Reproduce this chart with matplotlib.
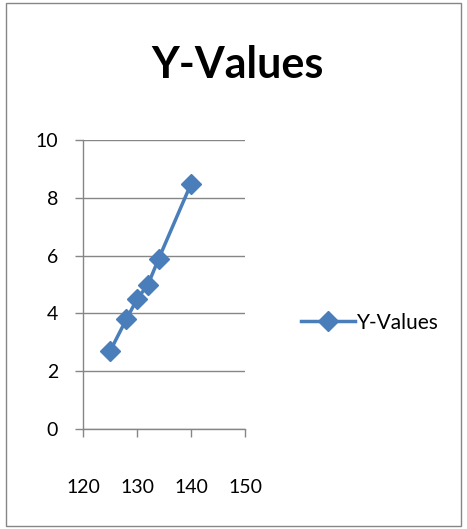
import matplotlib.pyplot as plt
from matplotlib.patches import Rectangle

# data
x_values = [125, 128, 130, 132, 134, 140]
y_values = [2.7, 3.8, 4.5, 5.0, 5.9, 8.5]
series_name = 'Y-Values'
x_ticks = [120, 130, 140, 150]
y_ticks = [0, 2, 4, 6, 8, 10]

plt.rcParams['font.family'] = ['Lato', 'DejaVu Sans']
blue = '#4A7EBB'
grey = '#868686'

fig = plt.figure(figsize=(4.67, 5.29), dpi=100)
fig.patches.append(Rectangle((0.012, 0.006), 0.976, 0.988, transform=fig.transFigure,
                             fill=False, edgecolor=grey, linewidth=1))

ax = fig.add_axes([0.178, 0.189, 0.347, 0.546])
ax.plot(x_values, y_values, color=blue, linewidth=2.5, marker='D', markersize=10,
        label=series_name)
ax.set_xlim(120, 150)
ax.set_ylim(0, 10)
ax.set_xticks(x_ticks)
ax.set_yticks(y_ticks)
ax.grid(axis='y', color=grey, linewidth=1)
ax.set_axisbelow(True)
for s in ['top', 'right']:
    ax.spines[s].set_visible(False)
for s in ['left', 'bottom']:
    ax.spines[s].set_color(grey)
    ax.spines[s].set_linewidth(1)
ax.tick_params(colors=grey, labelcolor='black', labelsize=14, length=6, width=1)
ax.tick_params(axis='x', pad=30)
ax.tick_params(axis='y', pad=12)

fig.text(0.508, 0.877, series_name, ha='center', va='center', fontsize=31, fontweight='bold')
fig.legend(loc='center left', bbox_to_anchor=(0.605, 0.39), frameon=False, fontsize=15,
           handlelength=2.6, handletextpad=0.05)

fig.savefig('out.png', dpi=100)
